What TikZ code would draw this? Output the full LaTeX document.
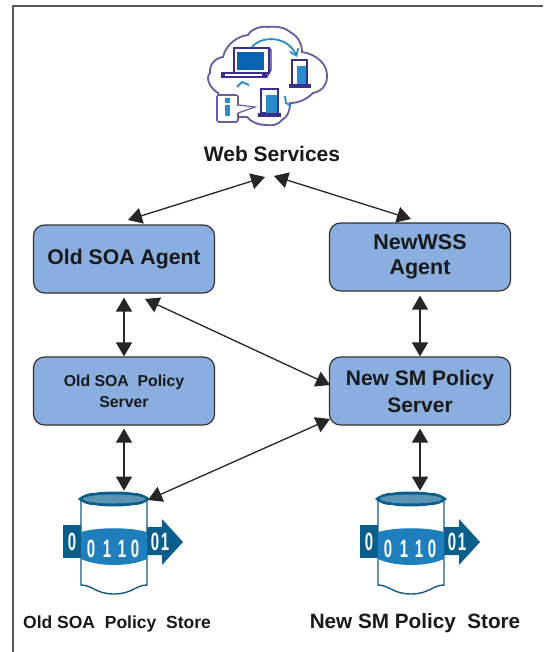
\documentclass[tikz,border=0pt]{standalone}
\usepackage{fontspec}
\setmainfont{Liberation Sans}
\usetikzlibrary{arrows.meta}
\definecolor{boxblue}{HTML}{8AAEDF}
\definecolor{dbdark}{HTML}{0A5E8C}
\definecolor{dbmid}{HTML}{1F7FBD}
\definecolor{dbtop}{HTML}{5A93B3}
\definecolor{cloudline}{HTML}{6A5AA5}
\definecolor{navy}{HTML}{3A2E8C}
\definecolor{screenblue}{HTML}{0A62B0}
\definecolor{skyblue}{HTML}{2A8CCB}
\tikzset{
  x=1pt,y=1pt,
  blk/.style={rounded corners=11pt,draw=black!80,line width=1.2pt,fill=boxblue,align=center,minimum width=181pt,inner sep=0pt,text=black!90},
  link/.style={black!85,line width=1.3pt,{Triangle[length=14pt,width=16pt]}-{Triangle[length=14pt,width=16pt]}},
  lab/.style={text=black!90,inner sep=0pt},
  digit/.style={inner sep=0pt,font=\bfseries\fontsize{25}{25}\selectfont,text=white,xscale=0.6},
}
\newcommand{\dbstore}[2]{%
 \begin{scope}[shift={(#1,#2)}]
  % origin = top centre of cylinder
  \draw[dbmid!70!black,line width=1.4pt,fill=white] (-33,0) -- (-33,-86) .. controls (-22,-86) and (-18,-95) .. (0,-95) .. controls (18,-95) and (22,-86) .. (33,-86) -- (33,0) -- cycle;
  \fill[dbdark] (-51,-26) -- (-33,-26) -- (-33,-59) -- (-51,-59) -- cycle;
  \fill[dbdark] (33,-28) -- (48,-28) -- (48,-20) -- (69,-43) -- (48,-66) -- (48,-56) -- (33,-56) -- cycle;
  \fill[dbmid] (-33,-33) .. controls (-15,-28) and (15,-28) .. (33,-33) -- (33,-60) .. controls (15,-68) and (-15,-68) .. (-33,-60) -- cycle;
  \fill[dbdark] (-36,0) .. controls (-30,-5) and (-25,-6) .. (-20,-6) .. controls (-10,-8) and (10,-8) .. (20,-6) .. controls (25,-6) and (30,-5) .. (36,0) .. controls (30,5) and (25,6) .. (20,6) .. controls (10,8) and (-10,8) .. (-20,6) .. controls (-25,6) and (-30,5) .. (-36,0) -- cycle;
  \fill[dbtop] (0,0) ellipse [x radius=31pt,y radius=4.5pt];
  \node[digit] at (-42,-43) {0};
  \node[digit] at (-23,-50) {0};
  \node[digit] at (-7,-50) {1};
  \node[digit] at (8,-50) {1};
  \node[digit] at (21,-50) {0};
  \node[digit] at (41,-43) {0};
  \node[digit] at (51,-43) {1};
 \end{scope}}
\begin{document}
\begin{tikzpicture}[x=1pt,y=1pt]
\useasboundingbox (0,0) rectangle (543,-652);
\fill[white] (0,0) rectangle (543,-652);
\draw[black!65,line width=2pt] (13,-652) -- (13,-6.5) -- (543,-6.5);

% cloud icon
\draw[cloudline,line width=1.8pt,fill=white] (218,-93)
 .. controls (210,-88) and (205,-78) .. (210,-73)
 .. controls (209,-65) and (215,-58) .. (223,-57)
 .. controls (226,-44) and (238,-36) .. (248,-35)
 .. controls (252,-28) and (262,-26) .. (268,-27)
 .. controls (278,-26) and (286,-28) .. (290,-32)
 .. controls (298,-36) and (302,-44) .. (302,-52)
 .. controls (316,-54) and (328,-64) .. (327,-77)
 .. controls (327,-86) and (320,-92) .. (313,-93)
 .. controls (306,-100) and (298,-103) .. (290,-103)
 .. controls (290,-112) and (287,-117) .. (282,-120)
 .. controls (278,-125) and (272,-126) .. (267,-125)
 .. controls (258,-125) and (251,-122) .. (247,-117)
 -- (225,-117) -- (218,-93) -- cycle;
% laptop
\draw[navy,line width=1.6pt,fill=white] (234,-48) rectangle (269,-73);
\fill[screenblue] (237,-52) rectangle (264,-70);
\fill[navy] (221,-72) rectangle (267,-78);
\fill[white] (225,-74) rectangle (262,-76);
\draw[navy,line width=1.2pt] (269,-48) -- (271,-50) -- (271,-70) -- (267,-77);
% curved arrow
\draw[skyblue,line width=1.8pt,-{Straight Barb[length=6pt,width=9pt]}] (252,-47) .. controls (262,-35) and (288,-36) .. (297,-57);
% right tower
\draw[navy,line width=1.4pt,fill=white] (292,-60) rectangle (307,-85);
\fill[skyblue] (297,-66) rectangle (306,-85);
\fill[navy] (289,-84) rectangle (311,-88);
% lower tower
\draw[navy,line width=1.4pt,fill=white] (261,-89) rectangle (278,-113);
\fill[skyblue] (266,-95) rectangle (277,-113);
\fill[navy] (258,-113) rectangle (281,-117);
% callout
\draw[cloudline,line width=1.6pt,fill=white,rounded corners=2pt] (217,-95) rectangle (238,-122);
\fill[white] (237,-106) rectangle (239,-113);
\draw[cloudline,line width=1.2pt,fill=white] (238,-105) -- (255,-107) -- (238,-113);
\fill[skyblue] (225,-98) rectangle (230,-103);
\fill[skyblue] (225,-105) rectangle (230,-116);
% small hints
\draw[skyblue,line width=1.8pt] (237,-87) -- (242,-82) -- (249,-85);
\draw[skyblue,line width=1.8pt] (285,-96) -- (286,-103) -- (291,-106);

% labels
\node[lab,font=\bfseries\fontsize{21}{21}\selectfont] (ws) at (272,-154) {Web Services};
\node[lab,font=\bfseries\fontsize{17.5}{18}\selectfont] (sl) at (117,-624) {Old SOA\ \ Policy\ \ Store};
\node[lab,font=\bfseries\fontsize{20.7}{21}\selectfont] (sr) at (415,-623) {New SM Policy\ \ Store};

% boxes
\node[blk,minimum height=68pt,font=\bfseries\fontsize{21.2}{21}\selectfont] (oa) at (124,-259) {Old SOA Agent};
\node[blk,minimum height=68pt,font=\bfseries\fontsize{21.5}{25}\selectfont] (na) at (420,-257) {NewWSS\\Agent};
\node[blk,minimum height=68pt,font=\bfseries\fontsize{15.8}{21}\selectfont] (op) at (124,-391) {Old SOA\ \ Policy\\Server};
\node[blk,minimum height=68pt,font=\bfseries\fontsize{21}{27}\selectfont] (np) at (420,-391) {New SM Policy\\Server};

% stores
\dbstore{114}{-499}
\dbstore{411}{-499}

% connectors
\coordinate (wl) at (265,-177);
\coordinate (wr) at (274,-176);
\coordinate (oat) at (128,-220);
\coordinate (nat) at (411,-219);
\coordinate (oab) at (145,-299);
\coordinate (npl) at (330,-385);
\coordinate (npl2) at (330,-419);
\coordinate (dlr) at (148,-500);
\draw[link] (wl) -- (oat);
\draw[link] (wr) -- (nat);
\draw[link] (oa.south) ++(0,-4) -- (op.north);
\draw[link] (na.south) ++(0,-4) -- (np.north);
\draw[link] (op.south) ++(0,-3) -- ++(0,-62);
\draw[link] (np.south) ++(0,-3) -- ++(0,-62);
\draw[link] (oab) -- (npl);
\draw[link] (dlr) -- (npl2);
\end{tikzpicture}
\end{document}
